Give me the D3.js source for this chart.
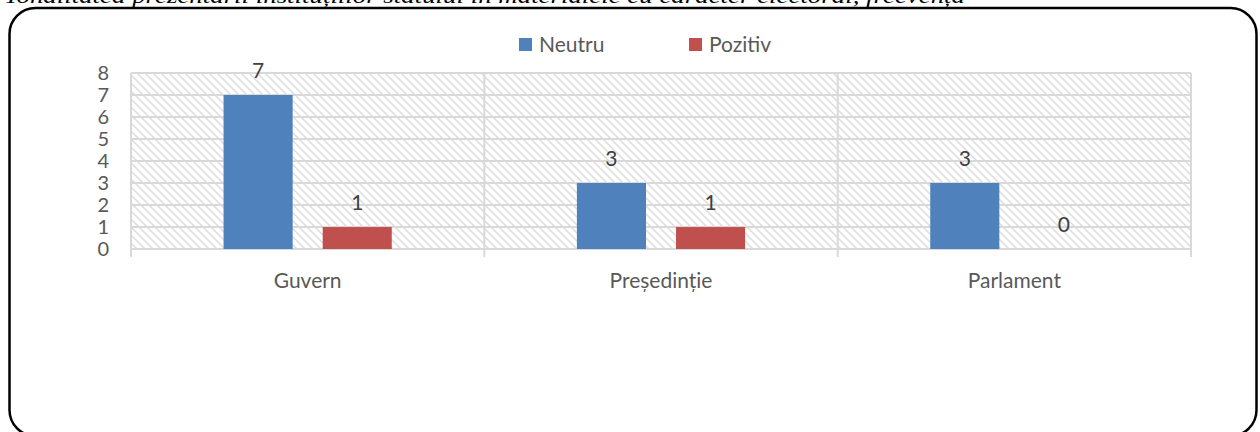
<!DOCTYPE html>
<html><head><meta charset="utf-8">
<script src="https://cdn.jsdelivr.net/npm/d3@7"></script>
<style>body{margin:0;background:#fff;overflow:hidden}svg{display:block}</style>
</head><body>
<script>
const title = "Tonalitatea prezentării instituțiilor statului în materialele cu caracter electoral, frecvența";
const categories = ["Guvern", "Președinție", "Parlament"];
const seriesNames = ["Neutru", "Pozitiv"];
const neutru = [7, 3, 3];
const pozitiv = [1, 1, 0];
const yTicks = [0, 1, 2, 3, 4, 5, 6, 7, 8];
const colors = ["#4F81BD", "#C0504D"];

const W = 1260, H = 432;
const svg = d3.select("body").append("svg").attr("width", W).attr("height", H);
const defs = svg.append("defs");
const pat = defs.append("pattern").attr("id", "hatch").attr("patternUnits", "userSpaceOnUse")
  .attr("width", 8).attr("height", 8);
pat.append("path").attr("d", "M0,0L8,8M-4,4L4,12M4,-4L12,4").attr("stroke", "#dcdcdc").attr("stroke-width", 1.5);

// title (clipped at top)
svg.append("text").attr("x", 4).attr("y", 3).attr("font-family", "Liberation Serif")
  .attr("font-style", "italic").attr("font-size", 20).attr("fill", "#000")
  .attr("textLength", 961).attr("lengthAdjust", "spacingAndGlyphs").text(title);

// frame
svg.append("rect").attr("x", 9.5).attr("y", 8).attr("width", 1247).attr("height", 428)
  .attr("rx", 26).attr("ry", 26).attr("fill", "none").attr("stroke", "#000").attr("stroke-width", 2.5);

const x0 = d3.scaleBand().domain(categories).range([131, 1191]).padding(0);
const x1 = d3.scaleBand().domain(seriesNames).range([0, x0.bandwidth()]).paddingInner(0.303).paddingOuter(0.934);
const y = d3.scaleLinear().domain([0, 8]).range([249, 73]);

const font = "Lato, 'Open Sans', sans-serif";
const txt = "#595959";

// plot background hatch
svg.append("rect").attr("x", 131).attr("y", y(8)).attr("width", 1191 - 131).attr("height", y(0) - y(8))
  .attr("fill", "url(#hatch)");

// gridlines
svg.append("g").selectAll("line").data(yTicks).join("line")
  .attr("x1", 131).attr("x2", 1191).attr("y1", d => y(d)).attr("y2", d => y(d))
  .attr("stroke", "#d9d9d9").attr("stroke-width", 2);
// vertical category separators
const seps = categories.map(c => x0(c)).concat([x0(categories[categories.length - 1]) + x0.bandwidth()]);
svg.append("g").selectAll("line").data(seps).join("line")
  .attr("x1", d => d).attr("x2", d => d).attr("y1", y(8)).attr("y2", y(0) + 8)
  .attr("stroke", "#d9d9d9").attr("stroke-width", 2);

// y tick labels
svg.append("g").selectAll("text").data(yTicks).join("text")
  .attr("x", 109).attr("y", d => y(d)).attr("dy", "0.36em").attr("text-anchor", "end")
  .attr("font-family", font).attr("font-size", 20).attr("fill", txt).text(d => d);

// x labels
svg.append("g").selectAll("text").data(categories).join("text")
  .attr("x", d => x0(d) + x0.bandwidth() / 2).attr("y", 288).attr("text-anchor", "middle")
  .attr("font-family", font).attr("font-size", 21).attr("fill", txt).text(d => d);

// bars
const series = [neutru, pozitiv];
series.forEach((vals, si) => {
  const g = svg.append("g");
  g.selectAll("rect").data(vals).join("rect")
    .attr("x", (d, i) => x0(categories[i]) + x1(seriesNames[si]))
    .attr("width", x1.bandwidth())
    .attr("y", d => y(d)).attr("height", d => y(0) - y(d))
    .attr("fill", colors[si]);
  g.selectAll("text").data(vals).join("text")
    .attr("x", (d, i) => x0(categories[i]) + x1(seriesNames[si]) + x1.bandwidth() / 2)
    .attr("y", d => y(d) - 17).attr("text-anchor", "middle")
    .attr("font-family", font).attr("font-size", 21).attr("fill", "#404040").text(d => d);
});

// legend
const legX = [519, 689];
seriesNames.forEach((n, i) => {
  svg.append("rect").attr("x", legX[i]).attr("y", 38).attr("width", 13).attr("height", 13).attr("fill", colors[i]);
  svg.append("text").attr("x", legX[i] + 20).attr("y", 52).attr("font-family", font)
    .attr("font-size", 21).attr("fill", txt).text(n);
});
</script>
</body></html>
